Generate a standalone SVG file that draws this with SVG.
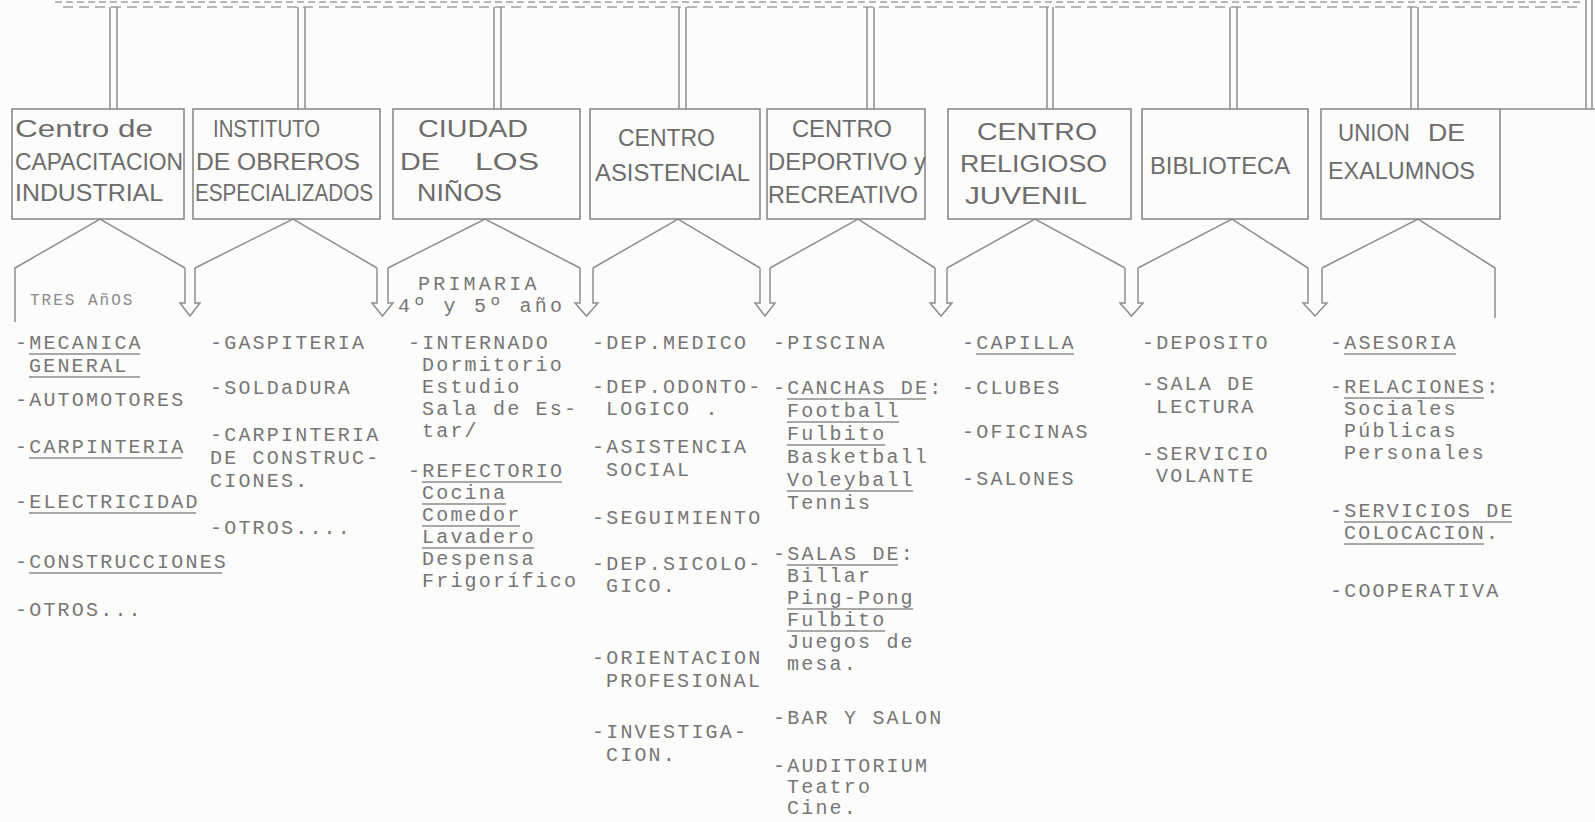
<svg xmlns="http://www.w3.org/2000/svg" width="1595" height="822" viewBox="0 0 1595 822">
<style>
.bg{fill:#fcfcfb}
.box{fill:none;stroke:#8a8a8a;stroke-width:1.6}
.ln{fill:none;stroke:#8d8d8d;stroke-width:1.5}
.dl{fill:none;stroke:#a0a0a0;stroke-width:1.4}
.bt{font-family:"Liberation Sans",Arial,sans-serif;font-size:23px;fill:#6c6c6c}
.tw{font-family:"Liberation Mono","Courier New",monospace;font-size:20px;letter-spacing:2.2px;fill:#767676}
.tw2{font-family:"Liberation Mono","Courier New",monospace;font-size:20px;letter-spacing:3.2px;fill:#767676}
.ts{font-family:"Liberation Mono","Courier New",monospace;font-size:16px;letter-spacing:2px;fill:#8a8a8a}
.ul{stroke:#8c8c8c;stroke-width:1.3}
</style>
<rect class="bg" x="0" y="0" width="1595" height="822"/>

<g id="top">
<line class="dl" x1="55" y1="2" x2="1580" y2="2" stroke-dasharray="7 4"/>
<line class="dl" x1="63" y1="7" x2="1577" y2="7" stroke-dasharray="10 6" stroke-width="1.1"/>
</g>

<g id="connectors">
<path class="ln" d="M110 7V109M117 7V109M298 7V109M305 7V109M494 7V109M501 7V109M679 7V109M686 7V109M867 7V109M874 7V109M1047 7V109M1053 7V109M1230 7V109M1237 7V109M1411 7V109M1418 7V109M1586 0V109M1592 0V109"/>
<path class="ln" d="M1500 109H1595"/>
<path class="ln" d="M15 322V268L100 219L185 268"/>
<path class="ln" d="M195 268L293 219L377 268"/>
<path class="ln" d="M388 268L485 219L580 268"/>
<path class="ln" d="M593 268L678 219L760 268"/>
<path class="ln" d="M770 268L858 219L935 268"/>
<path class="ln" d="M947 268L1035 219L1125 268"/>
<path class="ln" d="M1138 268L1232 219L1308 268"/>
<path class="ln" d="M1322 268L1418 219L1495 268V318"/>
<path class="ln" d="M185 268V303H180L190 316L200 303H195V268"/>
<path class="ln" d="M377 268V303H372L382.5 316L393 303H388V268"/>
<path class="ln" d="M580 268V303H575L586.5 316L598 303H593V268"/>
<path class="ln" d="M760 268V303H755L765 316L775 303H770V268"/>
<path class="ln" d="M935 268V303H930L941 316L952 303H947V268"/>
<path class="ln" d="M1125 268V303H1120L1131.5 316L1143 303H1138V268"/>
<path class="ln" d="M1308 268V303H1303L1315 316L1327 303H1322V268"/>
</g>

<g id="n1">
<rect class="box" x="12" y="109" width="172" height="110"/>
<text class="bt" x="15" y="137" textLength="138" lengthAdjust="spacingAndGlyphs">Centro  de</text>
<text class="bt" x="15" y="170" textLength="168" lengthAdjust="spacingAndGlyphs">CAPACITACION</text>
<text class="bt" x="15" y="201" textLength="148" lengthAdjust="spacingAndGlyphs">INDUSTRIAL</text>
<text class="ts" x="30" y="305">TRES AñOS</text>
<text class="tw" x="15" y="349">-MECANICA</text>
<text class="tw" x="29" y="372">GENERAL</text>
<text class="tw" x="15" y="406">-AUTOMOTORES</text>
<text class="tw" x="15" y="453">-CARPINTERIA</text>
<text class="tw" x="15" y="508">-ELECTRICIDAD</text>
<text class="tw" x="15" y="568">-CONSTRUCCIONES</text>
<text class="tw" x="15" y="616">-OTROS...</text>
<path class="ul" d="M29 354H140M29 377H140M29 458H182M29 513H196M29 573H222"/>
</g>

<g id="n2">
<rect class="box" x="193" y="109" width="187" height="110"/>
<text class="bt" x="213" y="137" textLength="107" lengthAdjust="spacingAndGlyphs">INSTITUTO</text>
<text class="bt" x="196" y="170" textLength="164" lengthAdjust="spacingAndGlyphs">DE OBREROS</text>
<text class="bt" x="195" y="201" textLength="178" lengthAdjust="spacingAndGlyphs">ESPECIALIZADOS</text>
<text class="tw" x="210" y="349">-GASPITERIA</text>
<text class="tw" x="210" y="394">-SOLDaDURA</text>
<text class="tw" x="210" y="441">-CARPINTERIA</text>
<text class="tw" x="210" y="464">DE CONSTRUC-</text>
<text class="tw" x="210" y="487">CIONES.</text>
<text class="tw" x="210" y="534">-OTROS....</text>
</g>

<g id="n3">
<rect class="box" x="393" y="109" width="187" height="110"/>
<text class="bt" x="418" y="137" textLength="110" lengthAdjust="spacingAndGlyphs">CIUDAD</text>
<text class="bt" x="400" y="170" textLength="40" lengthAdjust="spacingAndGlyphs">DE</text>
<text class="bt" x="475" y="170" textLength="64" lengthAdjust="spacingAndGlyphs">LOS</text>
<text class="bt" x="417" y="201" textLength="85" lengthAdjust="spacingAndGlyphs">NIÑOS</text>
<text class="tw2" x="418" y="290">PRIMARIA</text>
<text class="tw2" x="398" y="312">4º y 5º año</text>
<text class="tw" x="408" y="349">-INTERNADO</text>
<text class="tw" x="422" y="371">Dormitorio</text>
<text class="tw" x="422" y="393">Estudio</text>
<text class="tw" x="422" y="415">Sala de Es-</text>
<text class="tw" x="422" y="437">tar/</text>
<text class="tw" x="408" y="477">-REFECTORIO</text>
<text class="tw" x="422" y="499">Cocina</text>
<text class="tw" x="422" y="521">Comedor</text>
<text class="tw" x="422" y="543">Lavadero</text>
<text class="tw" x="422" y="565">Despensa</text>
<text class="tw" x="422" y="587">Frigorífico</text>
<path class="ul" d="M422 482H562M422 504H506M422 526H520M422 548H534"/>
</g>

<g id="n4">
<rect class="box" x="590" y="109" width="170" height="110"/>
<text class="bt" x="618" y="146" textLength="97" lengthAdjust="spacingAndGlyphs">CENTRO</text>
<text class="bt" x="595" y="181" textLength="155" lengthAdjust="spacingAndGlyphs">ASISTENCIAL</text>
<text class="tw" x="592" y="349">-DEP.MEDICO</text>
<text class="tw" x="592" y="393">-DEP.ODONTO-</text>
<text class="tw" x="606" y="415">LOGICO .</text>
<text class="tw" x="592" y="453">-ASISTENCIA</text>
<text class="tw" x="606" y="476">SOCIAL</text>
<text class="tw" x="592" y="524">-SEGUIMIENTO</text>
<text class="tw" x="592" y="570">-DEP.SICOLO-</text>
<text class="tw" x="606" y="592">GICO.</text>
<text class="tw" x="592" y="664">-ORIENTACION</text>
<text class="tw" x="606" y="687">PROFESIONAL</text>
<text class="tw" x="592" y="738">-INVESTIGA-</text>
<text class="tw" x="606" y="761">CION.</text>
</g>

<g id="n5">
<rect class="box" x="767" y="109" width="158" height="110"/>
<text class="bt" x="792" y="137" textLength="100" lengthAdjust="spacingAndGlyphs">CENTRO</text>
<text class="bt" x="768" y="170" textLength="158" lengthAdjust="spacingAndGlyphs">DEPORTIVO y</text>
<text class="bt" x="768" y="203" textLength="150" lengthAdjust="spacingAndGlyphs">RECREATIVO</text>
<text class="tw" x="773" y="349">-PISCINA</text>
<text class="tw" x="773" y="394">-CANCHAS DE:</text>
<text class="tw" x="787" y="417">Football</text>
<text class="tw" x="787" y="440">Fulbito</text>
<text class="tw" x="787" y="463">Basketball</text>
<text class="tw" x="787" y="486">Voleyball</text>
<text class="tw" x="787" y="509">Tennis</text>
<text class="tw" x="773" y="560">-SALAS DE:</text>
<text class="tw" x="787" y="582">Billar</text>
<text class="tw" x="787" y="604">Ping-Pong</text>
<text class="tw" x="787" y="626">Fulbito</text>
<text class="tw" x="787" y="648">Juegos de</text>
<text class="tw" x="787" y="670">mesa.</text>
<text class="tw" x="773" y="724">-BAR Y SALON</text>
<text class="tw" x="773" y="772">-AUDITORIUM</text>
<text class="tw" x="787" y="793">Teatro</text>
<text class="tw" x="787" y="814">Cine.</text>
<path class="ul" d="M787 399H926M787 422H899M787 445H885M787 491H913M787 565H898M787 609H913M787 631H885"/>
</g>

<g id="n6">
<rect class="box" x="948" y="109" width="183" height="110"/>
<text class="bt" x="977" y="140" textLength="120" lengthAdjust="spacingAndGlyphs">CENTRO</text>
<text class="bt" x="960" y="172" textLength="147" lengthAdjust="spacingAndGlyphs">RELIGIOSO</text>
<text class="bt" x="965" y="204" textLength="122" lengthAdjust="spacingAndGlyphs">JUVENIL</text>
<text class="tw" x="962" y="349">-CAPILLA</text>
<text class="tw" x="962" y="394">-CLUBES</text>
<text class="tw" x="962" y="438">-OFICINAS</text>
<text class="tw" x="962" y="485">-SALONES</text>
<path class="ul" d="M976 354H1074"/>
</g>

<g id="n7">
<rect class="box" x="1142" y="109" width="166" height="110"/>
<text class="bt" x="1150" y="174" textLength="140" lengthAdjust="spacingAndGlyphs">BIBLIOTECA</text>
<text class="tw" x="1142" y="349">-DEPOSITO</text>
<text class="tw" x="1142" y="390">-SALA DE</text>
<text class="tw" x="1156" y="413">LECTURA</text>
<text class="tw" x="1142" y="460">-SERVICIO</text>
<text class="tw" x="1156" y="482">VOLANTE</text>
</g>

<g id="n8">
<rect class="box" x="1321" y="109" width="179" height="110"/>
<text class="bt" x="1338" y="141" textLength="72" lengthAdjust="spacingAndGlyphs">UNION</text>
<text class="bt" x="1428" y="141" textLength="37" lengthAdjust="spacingAndGlyphs">DE</text>
<text class="bt" x="1328" y="179" textLength="147" lengthAdjust="spacingAndGlyphs">EXALUMNOS</text>
<text class="tw" x="1330" y="349">-ASESORIA</text>
<text class="tw" x="1330" y="393">-RELACIONES:</text>
<text class="tw" x="1344" y="415">Sociales</text>
<text class="tw" x="1344" y="437">Públicas</text>
<text class="tw" x="1344" y="459">Personales</text>
<text class="tw" x="1330" y="517">-SERVICIOS DE</text>
<text class="tw" x="1344" y="539">COLOCACION.</text>
<text class="tw" x="1330" y="597">-COOPERATIVA</text>
<path class="ul" d="M1344 354H1456M1344 398H1484M1344 522H1512M1344 544H1484"/>
</g>
</svg>
